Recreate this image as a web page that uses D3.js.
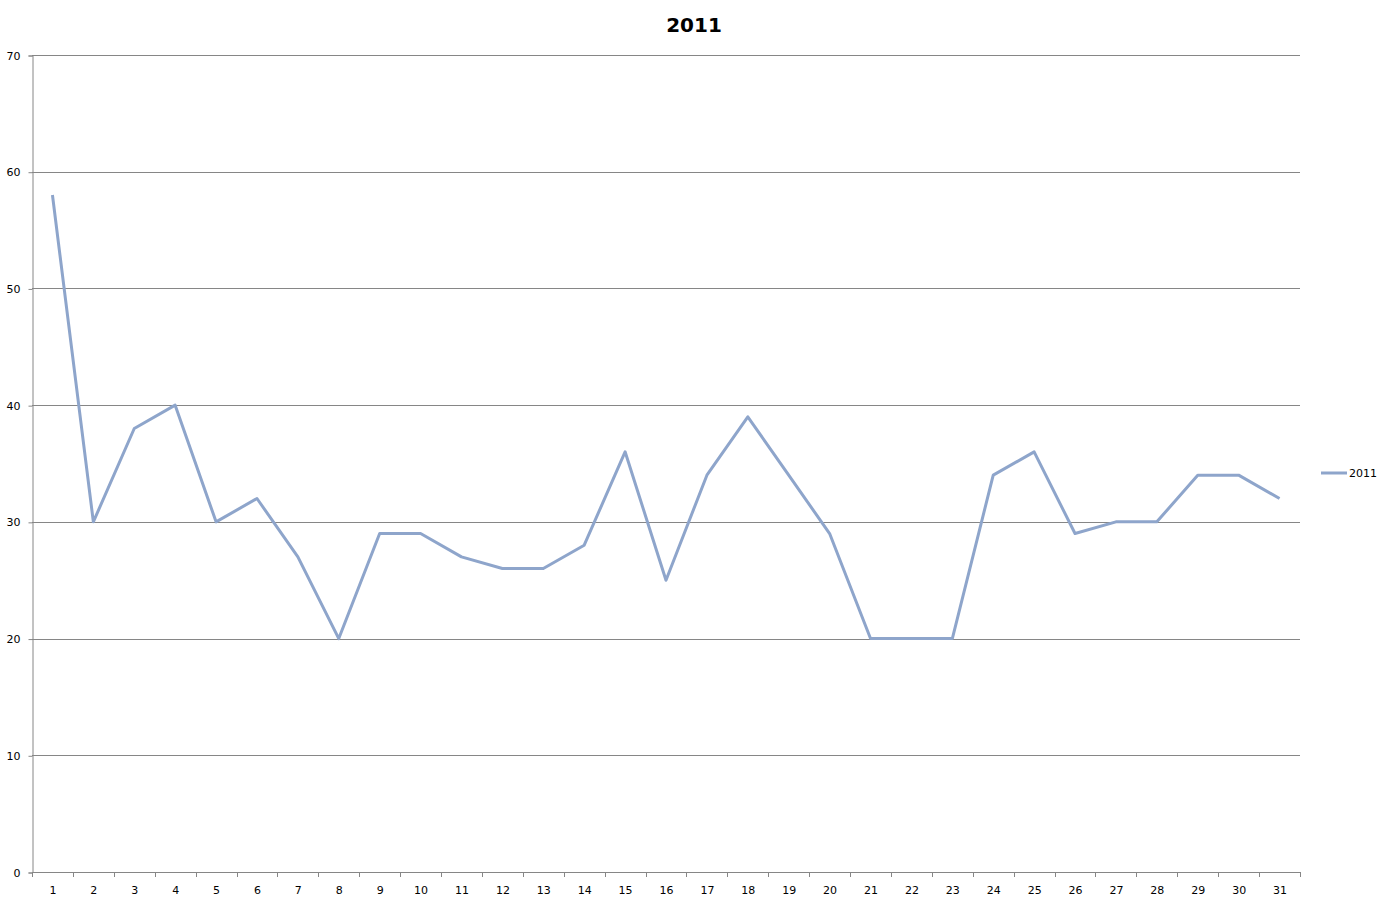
<!DOCTYPE html>
<html><head><meta charset="utf-8">
<script src="https://cdn.jsdelivr.net/npm/d3@7"></script>
<style>body{margin:0;background:#fff;} svg{display:block;}</style>
</head><body>
<svg id="chart" width="1388" height="904"></svg>
<script>
const title = "2011";
const seriesName = "2011";
const categories = d3.range(1, 32).map(String);
const values = [58, 30, 38, 40, 30, 32, 27, 20, 29, 29, 27, 26, 26, 28, 36, 25, 34, 39, 34, 29, 20, 20, 20, 34, 36, 29, 30, 30, 34, 34, 32];
const yTicks = [0, 10, 20, 30, 40, 50, 60, 70];

(function () {
const svg = d3.select("#chart");
const mLeft = 32, mRight = 1300, mTop = 55, mBottom = 872;
const x = d3.scaleBand().domain(categories).range([mLeft, mRight]).padding(0);
const y = d3.scaleLinear().domain([0, 70]).range([mBottom, mTop]);
const font = "Tahoma, 'DejaVu Sans', sans-serif";
const gridColor = "#868686";

svg.append("g").selectAll("line").data(yTicks.filter(d => d > 0)).join("line")
  .attr("x1", mLeft).attr("x2", mRight)
  .attr("y1", d => Math.round(y(d)) + 0.5).attr("y2", d => Math.round(y(d)) + 0.5)
  .attr("stroke", gridColor).attr("stroke-width", 1);

const yAxis = svg.append("g").attr("transform", `translate(${mLeft + 0.5},0.5)`)
  .call(d3.axisLeft(y).tickValues(yTicks).tickSize(4).tickPadding(8));
yAxis.select(".domain").attr("stroke", gridColor);
yAxis.selectAll(".tick line").attr("stroke", gridColor);
yAxis.selectAll("text").attr("font-family", font).attr("font-size", 11).attr("fill", "#000");

const xAxis = svg.append("g").attr("transform", `translate(0.5,${mBottom + 0.5})`)
  .call(d3.axisBottom(x).tickSize(0).tickPadding(14));
xAxis.select(".domain").attr("stroke", gridColor).attr("d", `M${mLeft},0H${mRight}`);
xAxis.selectAll(".tick line").remove();
xAxis.selectAll("text").attr("font-family", font).attr("font-size", 11).attr("fill", "#000");
const bounds = categories.map(c => x(c)).concat([mRight]);
svg.append("g").selectAll("line").data(bounds).join("line")
  .attr("x1", d => Math.round(d) + 0.5).attr("x2", d => Math.round(d) + 0.5)
  .attr("y1", mBottom).attr("y2", mBottom + 5)
  .attr("stroke", gridColor);

const line = d3.line().x((d, i) => x(categories[i]) + x.bandwidth() / 2).y(d => y(d));
svg.append("path").datum(values).attr("d", line)
  .attr("fill", "none").attr("stroke", "#8EA5CB").attr("stroke-width", 3)
  .attr("stroke-linejoin", "round");

svg.append("text").attr("x", 694).attr("y", 32).attr("text-anchor", "middle")
  .attr("font-family", font).attr("font-weight", "bold").attr("font-size", 20).text(title);

svg.append("line").attr("x1", 1321).attr("x2", 1347).attr("y1", 473).attr("y2", 473)
  .attr("stroke", "#8EA5CB").attr("stroke-width", 3);
svg.append("text").attr("x", 1349).attr("y", 477).attr("font-family", font).attr("font-size", 11)
  .text(seriesName);
})();
</script>
</body></html>
